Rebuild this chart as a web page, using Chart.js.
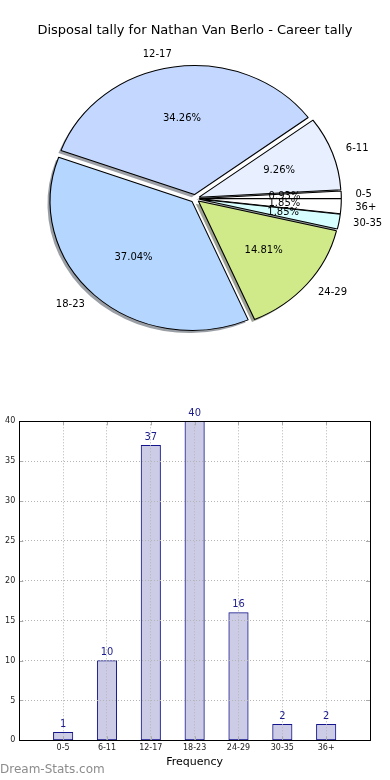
<!DOCTYPE html>
<html>
<head>
<meta charset="utf-8">
<script src="https://cdn.jsdelivr.net/npm/chart.js@4.4.0/dist/chart.umd.min.js"></script>
<style>
  html, body { margin: 0; padding: 0; background: #fff; }
  body { width: 390px; height: 780px; position: relative; overflow: hidden; font-family: "DejaVu Sans", sans-serif; }
  #title { position: absolute; left: 0; top: 22px; width: 390px; text-align: center; font-size: 13px; line-height: 16px; color: #000; }
  #pie { position: absolute; left: 0; top: 0; }
  #bars { position: absolute; left: 0; top: 400px; }
  #mark { position: absolute; left: 0; top: 762px; font-size: 12px; line-height: 14px; color: #8c8c8c; }
</style>
</head>
<body>
<canvas id="pie" width="390" height="400"></canvas>
<div id="title">Disposal tally for Nathan Van Berlo - Career tally</div>
<canvas id="bars" width="390" height="380"></canvas>
<div id="mark">Dream-Stats.com</div>
<script>
// data
const categories = ['0-5', '6-11', '12-17', '18-23', '24-29', '30-35', '36+'];
const tally = [1, 10, 37, 40, 16, 2, 2];
const sliceColours = ['#ffffff', '#e8f0ff', '#c4d8ff', '#b4d6ff', '#d0ea8a', '#d8ffff', '#ffffff'];
const yMax = 40;
const yStep = 5;

// pie look (matplotlib style: counter-clockwise from 3 o'clock, squashed, exploded, shadowed)
const PIE_RADIUS = 129;
const STRETCH_X = 1.1;
const EXPLODE = 4;
const SHADOW_DX = -2.6, SHADOW_DY = 2.6;

const total = tally.reduce((a, b) => a + b, 0);
// chart.js goes clockwise, so feed it reversed
const rev = arr => arr.slice().reverse();

function darkShadow(hex) {
  const n = parseInt(hex.slice(1), 16);
  const r = Math.round(((n >> 16) & 255) * 0.3);
  const g = Math.round(((n >> 8) & 255) * 0.3);
  const b = Math.round((n & 255) * 0.3);
  return `rgba(${r},${g},${b},0.5)`;
}

const pieLook = {
  id: 'pieLook',
  beforeDatasetsDraw(chart) {
    const ctx = chart.ctx;
    const meta = chart.getDatasetMeta(0);
    const cx = meta.data[0].x;
    // explode each wedge along its middle angle (no radius change, unlike the built-in offset)
    meta.data.forEach(arc => {
      if (arc._exploded) return;
      const base = arc.draw;
      arc.draw = function (c) {
        const m = (this.startAngle + this.endAngle) / 2;
        c.save();
        c.translate(Math.cos(m) * EXPLODE, Math.sin(m) * EXPLODE);
        base.call(this, c);
        c.restore();
      };
      arc._exploded = true;
    });
    ctx.save();
    ctx.translate(cx, 0);
    ctx.scale(STRETCH_X, 1);
    ctx.translate(-cx, 0);
    const cols = rev(sliceColours);
    meta.data.forEach((arc, i) => {
      const mid = (arc.startAngle + arc.endAngle) / 2;
      const ox = arc.x + Math.cos(mid) * EXPLODE + SHADOW_DX / STRETCH_X;
      const oy = arc.y + Math.sin(mid) * EXPLODE + SHADOW_DY;
      ctx.beginPath();
      ctx.moveTo(ox, oy);
      ctx.arc(ox, oy, arc.outerRadius, arc.startAngle, arc.endAngle);
      ctx.closePath();
      ctx.fillStyle = darkShadow(cols[i]);
      ctx.fill();
    });
  },
  afterDatasetsDraw(chart) {
    const ctx = chart.ctx;
    ctx.restore();
    const meta = chart.getDatasetMeta(0);
    const cx = meta.data[0].x;
    const labels = rev(categories);
    const vals = rev(tally);
    ctx.save();
    ctx.fillStyle = '#000';
    ctx.font = '10px "DejaVu Sans"';
    ctx.textBaseline = 'middle';
    meta.data.forEach((arc, i) => {
      const mid = (arc.startAngle + arc.endAngle) / 2;
      const ex = arc.x + Math.cos(mid) * EXPLODE;
      const ey = arc.y + Math.sin(mid) * EXPLODE;
      const R = arc.outerRadius;
      const lx = cx + (ex + Math.cos(mid) * 1.1 * R - cx) * STRETCH_X;
      const ly = ey + Math.sin(mid) * 1.1 * R;
      ctx.textAlign = Math.cos(mid) > 0 ? 'left' : 'right';
      ctx.fillText(labels[i], lx, ly);
      const px = cx + (ex + Math.cos(mid) * 0.6 * R - cx) * STRETCH_X;
      const py = ey + Math.sin(mid) * 0.6 * R;
      ctx.textAlign = 'center';
      ctx.fillText((vals[i] / total * 100).toFixed(2) + '%', px, py);
    });
    ctx.restore();
  }
};

new Chart(document.getElementById('pie'), {
  type: 'pie',
  data: {
    labels: rev(categories),
    datasets: [{
      data: rev(tally),
      backgroundColor: rev(sliceColours),
      borderColor: '#000',
      borderWidth: 1,
      radius: PIE_RADIUS,
      clip: false
    }]
  },
  options: {
    responsive: false,
    animation: false,
    events: [],
    rotation: 90,
    layout: { padding: { top: 0, bottom: 3, left: 0, right: 0 } },
    plugins: { legend: { display: false }, tooltip: { enabled: false } }
  },
  plugins: [pieLook]
});

// bar chart
const frame = {
  id: 'frame',
  afterDraw(chart) {
    const { ctx, chartArea: a, scales } = chart;
    ctx.save();
    ctx.strokeStyle = '#aaa';
    ctx.lineWidth = 1;
    ctx.beginPath();
    scales.x.ticks.forEach(t => {
      const x = Math.round(scales.x.getPixelForValue(t.value)) + 0.5;
      ctx.moveTo(x, a.top); ctx.lineTo(x, a.top + 4);
      ctx.moveTo(x, a.bottom); ctx.lineTo(x, a.bottom - 4);
    });
    scales.y.ticks.forEach(t => {
      const y = Math.round(scales.y.getPixelForValue(t.value)) + 0.5;
      ctx.moveTo(a.left, y); ctx.lineTo(a.left + 4, y);
      ctx.moveTo(a.right, y); ctx.lineTo(a.right - 4, y);
    });
    ctx.stroke();
    ctx.strokeStyle = '#000';
    ctx.strokeRect(Math.round(a.left) + 0.5, Math.round(a.top) + 0.5, Math.round(a.width), Math.round(a.height));
    // value labels
    ctx.fillStyle = '#1c1c8c';
    ctx.font = '11px "DejaVu Sans Condensed"';
    ctx.textAlign = 'center';
    ctx.textBaseline = 'bottom';
    chart.getDatasetMeta(0).data.forEach((bar, i) => {
      ctx.fillText(String(tally[i]), bar.x, bar.y - 3);
    });
    ctx.restore();
  }
};

const tickFont = { family: 'DejaVu Sans', size: 8 };

new Chart(document.getElementById('bars'), {
  type: 'bar',
  data: {
    datasets: [{
      data: tally.map((v, i) => ({ x: i, y: v })),
      backgroundColor: '#ccccE6',
      borderColor: '#14148c',
      borderWidth: 1,
      borderSkipped: false,
      barThickness: 19.5
    }]
  },
  options: {
    responsive: false,
    animation: false,
    events: [],
    layout: { padding: { top: 21.3, right: 20, bottom: 11.7, left: 0 } },
    plugins: { legend: { display: false }, tooltip: { enabled: false } },
    scales: {
      x: {
        type: 'linear',
        min: -1,
        max: 7,
        offset: false,
        afterBuildTicks: s => { s.ticks = categories.map((c, i) => ({ value: i })); },
        afterFit: s => { s.height = 28; },
        ticks: { callback: v => categories[v], font: tickFont, color: '#222', padding: 3, autoSkip: false, maxRotation: 0 },
        grid: { color: '#b4b4b4', drawTicks: false, offset: false, z: 1 },
        border: { display: false, dash: [1, 2] },
        title: { display: true, text: 'Frequency', font: { family: 'DejaVu Sans', size: 11 }, color: '#000', padding: 0 }
      },
      y: {
        min: 0,
        max: yMax,
        afterFit: s => { s.width = 19.3; },
        ticks: { stepSize: yStep, font: tickFont, color: '#222', padding: 4 },
        grid: { color: '#b4b4b4', drawTicks: false, z: 1 },
        border: { display: false, dash: [1, 2] }
      }
    }
  },
  plugins: [frame]
});
</script>
</body>
</html>
